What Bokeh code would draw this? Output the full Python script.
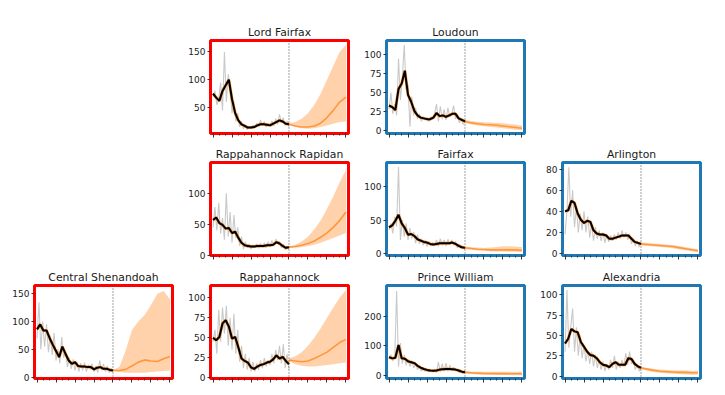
from bokeh.plotting import figure
from bokeh.layouts import column, row, Spacer
from bokeh.models import Range1d, FixedTicker, Span, CustomJSTickFormatter
from bokeh.embed import file_html
from bokeh.resources import INLINE

# ---------------- data ----------------
raw_days = list(range(0, 121, 3))      # daily raw counts (sampled)
hist_days = list(range(0, 121, 5))     # smoothed history
fc_days = list(range(120, 211, 10))    # forecast horizon
forecast_start = 120

x_major = [0, 30, 60, 90, 120, 150, 180, 210]
x_minor = list(range(0, 211, 10))

# Lord Fairfax
lf_raw = [70, 80, 55, 65, 95, 45, 150, 60, 110, 85, 40, 60, 25, 40, 15, 25, 12, 18, 10, 16, 12,
          18, 14, 22, 15, 28, 18, 25, 15, 22, 18, 26, 17, 30, 20, 38, 22, 32, 18, 26, 15]
lf_smooth = [75, 68, 62, 80, 90, 100, 65, 40, 27, 20, 17, 14, 14, 15, 18, 20, 20, 19, 18, 21,
             24, 27, 25, 21, 20]
lf_mid = [20, 17, 15, 15, 17, 22, 32, 45, 60, 69]
lf_lo = [19, 15, 13, 12, 13, 15, 18, 21, 24, 25]
lf_hi = [22, 24, 30, 40, 55, 75, 100, 125, 150, 163]

# Loudoun
ld_raw = [28, 50, 22, 35, 20, 95, 40, 70, 113, 55, 60, 5, 45, 20, 30, 15, 22, 12, 18, 14, 17,
          12, 18, 15, 22, 35, 12, 32, 15, 28, 14, 30, 18, 22, 33, 15, 22, 10, 15, 8, 12]
ld_smooth = [33, 31, 27, 55, 62, 79, 47, 38, 26, 20, 17, 16, 15, 15, 17, 23, 19, 20, 18, 20,
             22, 22, 16, 14, 12]
ld_mid = [12, 10, 9, 8, 7.5, 7, 6, 5, 4, 3]
ld_lo = [10, 8, 6.5, 5.5, 4.5, 4, 3, 2, 1, 0.5]
ld_hi = [14, 12.5, 11.5, 11, 10.5, 10, 9.5, 8.5, 7.5, 6.5]

# Rappahannock Rapidan
rr_raw = [45, 78, 40, 85, 35, 60, 25, 100, 30, 70, 20, 65, 28, 45, 15, 30, 10, 22, 12, 18, 10,
          17, 12, 18, 11, 19, 13, 20, 12, 22, 14, 24, 15, 26, 20, 22, 12, 18, 9, 14, 10]
rr_smooth = [57, 61, 52, 49, 43, 44, 36, 38, 28, 20, 16, 15, 14, 14, 15, 15, 15, 16, 16, 17,
             21, 19, 15, 12, 13]
rr_mid = [13, 14, 16, 19, 23, 29, 36, 45, 56, 70]
rr_lo = [12, 12, 13, 15, 17, 20, 24, 28, 32, 36]
rr_hi = [14, 17, 22, 30, 42, 56, 75, 95, 118, 138]

# Fairfax
fx_raw = [35, 45, 30, 55, 40, 130, 20, 50, 25, 45, 20, 38, 22, 32, 15, 28, 14, 22, 12, 20, 10,
          18, 11, 16, 12, 20, 10, 22, 12, 20, 11, 21, 13, 20, 12, 18, 8, 14, 7, 11, 6]
fx_smooth = [39, 42, 49, 58, 45, 38, 28, 29, 26, 21, 19, 17, 16, 14, 13, 14, 15, 15, 15, 15,
             16, 14, 11, 9, 8]
fx_mid = [8, 7, 6, 5.5, 5, 5, 5, 5, 5, 4.5]
fx_lo = [6, 5, 4, 3.5, 3, 2.5, 2.5, 2, 2, 1.5]
fx_hi = [10, 9, 8.5, 8, 8.5, 9.5, 10.5, 10.5, 10, 9.5]

# Arlington
ar_raw = [18, 40, 82, 35, 60, 25, 45, 20, 38, 22, 40, 20, 35, 15, 28, 12, 25, 14, 22, 12, 20,
          10, 18, 11, 17, 12, 18, 13, 20, 14, 22, 15, 20, 13, 18, 9, 14, 7, 12, 6, 10]
ar_smooth = [40, 41, 50, 48, 38, 32, 29, 31, 30, 22, 19, 18, 18, 17, 14, 14, 15, 16, 17, 17,
             17, 14, 11, 10, 9]
ar_mid = [9, 8.5, 8, 7.5, 7, 6.5, 5.5, 4.5, 3.5, 2.5]
ar_lo = [7.5, 7, 6.5, 6, 5.5, 5, 4, 3, 2, 1]
ar_hi = [10.5, 10, 9.5, 9, 8.5, 8, 7, 6, 5, 4]

# Central Shenandoah
cs_raw = [70, 135, 50, 100, 55, 95, 45, 75, 40, 80, 30, 50, 25, 72, 35, 45, 18, 35, 15, 32, 12,
          28, 10, 25, 12, 26, 10, 22, 14, 24, 10, 20, 8, 30, 12, 24, 10, 20, 8, 16, 10]
cs_smooth = [86, 95, 84, 84, 70, 58, 47, 36, 55, 42, 30, 24, 27, 20, 19, 19, 18, 18, 14, 17,
             18, 15, 15, 13, 12]
cs_mid = [12, 12, 14, 20, 27, 31, 29, 28, 33, 37]
cs_lo = [11, 9, 8, 8, 8, 8, 9, 10, 11, 12]
cs_hi = [13, 18, 48, 85, 100, 112, 130, 150, 155, 140]

# Rappahannock
ra_raw = [45, 60, 30, 85, 45, 88, 55, 90, 40, 75, 35, 80, 30, 60, 20, 40, 12, 30, 10, 25, 8,
          20, 8, 18, 10, 22, 12, 25, 14, 22, 16, 30, 18, 35, 22, 40, 18, 42, 12, 30, 10]
ra_smooth = [50, 47, 51, 68, 72, 64, 49, 51, 38, 24, 21, 19, 13, 11, 14, 16, 17, 19, 20, 23,
             28, 24, 26, 21, 17]
ra_mid = [22, 21, 20, 21, 24, 28, 32, 38, 44, 48]
ra_lo = [21, 17, 15, 14, 14, 15, 16, 17, 18, 19]
ra_hi = [24, 27, 32, 40, 50, 62, 75, 88, 100, 110]

# Prince William
pw_raw = [55, 70, 50, 60, 285, 30, 110, 40, 70, 35, 55, 30, 50, 25, 40, 20, 28, 15, 25, 14, 20,
          12, 18, 14, 22, 10, 45, 12, 40, 15, 42, 14, 35, 16, 28, 15, 22, 10, 15, 8, 12]
pw_smooth = [62, 58, 60, 103, 58, 57, 48, 45, 42, 33, 27, 22, 19, 17, 16, 17, 20, 21, 22, 22,
             21, 20, 17, 13, 11]
pw_mid = [11, 9, 8, 7, 7, 6.5, 6.5, 6, 6, 6]
pw_lo = [7, 5, 3.5, 2.5, 2, 2, 1.5, 1.5, 1, 1]
pw_hi = [15, 13, 12.5, 12.5, 12.5, 12.5, 12.5, 12.5, 12.5, 12.5]

# Alexandria
al_raw = [30, 106, 35, 60, 83, 30, 60, 25, 50, 22, 38, 18, 32, 15, 30, 12, 26, 10, 20, 8, 18,
          6, 15, 8, 20, 10, 25, 8, 18, 10, 20, 12, 28, 14, 30, 15, 20, 8, 14, 6, 10]
al_smooth = [40, 46, 58, 55, 54, 42, 36, 30, 26, 25, 22, 17, 14, 13, 11, 15, 17, 14, 14, 14,
             22, 21, 15, 12, 10]
al_mid = [10, 8.5, 7, 6, 5.5, 5, 4.5, 4.5, 4, 4]
al_lo = [8.5, 6.5, 5, 4, 3.5, 3, 2.5, 2, 1.5, 1.5]
al_hi = [11.5, 10, 9, 8, 7.5, 7, 7, 7, 6.5, 6.5]

RED = "#ff0000"
BLUE = "#1f77b4"
ORANGE = "#ff7f0e"
FONT = "DejaVu Sans"

COL_W = 176
FRAME_W = 138
FRAME_H = 93


def panel(title, raw, smooth, mid, lo, hi, yr, yticks, edge, top):
    p = figure(frame_width=FRAME_W, frame_height=FRAME_H,
               x_range=Range1d(-4, 214), y_range=Range1d(*yr),
               output_backend="svg", toolbar_location=None,
               min_border_left=26, min_border_right=COL_W - FRAME_W - 26,
               min_border_top=top, min_border_bottom=8,
               title=title)
    p.title.align = "center"
    p.title.text_font = FONT
    p.title.text_font_size = "10.8px"
    p.title.text_font_style = "normal"
    p.title.text_color = "#1a1a1a"
    p.title.standoff = 3
    p.xgrid.visible = False
    p.ygrid.visible = False
    p.outline_line_color = edge
    p.outline_line_width = 3
    p.outline_line_alpha = 1.0
    p.background_fill_color = "white"
    p.border_fill_color = "white"

    # data
    p.varea(x=fc_days, y1=lo, y2=hi, fill_color=ORANGE, fill_alpha=0.35)
    p.line(raw_days, raw, line_color="#888888", line_alpha=0.45, line_width=1.1)
    p.line(hist_days, smooth, line_color=ORANGE, line_alpha=0.75, line_width=3)
    p.line(fc_days, mid, line_color=ORANGE, line_alpha=0.7, line_width=1.6)
    p.line(hist_days, smooth, line_color="black", line_width=2)
    p.add_layout(Span(location=forecast_start, dimension="height",
                      line_color="#444444", line_dash="1 2", line_width=1))

    # axes
    p.yaxis.ticker = FixedTicker(ticks=yticks)
    p.yaxis.axis_line_color = None
    p.yaxis.major_tick_in = 0
    p.yaxis.major_tick_out = 3
    p.yaxis.minor_tick_out = 0
    p.yaxis.minor_tick_in = 0
    p.yaxis.major_tick_line_color = "#333333"
    p.yaxis.major_label_text_font = FONT
    p.yaxis.major_label_text_font_size = "9px"
    p.yaxis.major_label_text_color = "#222222"
    p.yaxis.major_label_standoff = 2

    p.xaxis.ticker = FixedTicker(ticks=x_major, minor_ticks=x_minor)
    p.xaxis.formatter = CustomJSTickFormatter(code="return ''")
    p.xaxis.axis_line_color = None
    p.xaxis.major_tick_in = 0
    p.xaxis.major_tick_out = 4
    p.xaxis.minor_tick_in = 0
    p.xaxis.minor_tick_out = 2
    p.xaxis.major_tick_line_color = "#333333"
    p.xaxis.minor_tick_line_color = "#333333"
    p.xaxis.major_label_standoff = 0
    return p


lf = panel("Lord Fairfax", lf_raw, lf_smooth, lf_mid, lf_lo, lf_hi, (3.4, 170.6), [50, 100, 150], RED, 32)
ld = panel("Loudoun", ld_raw, ld_smooth, ld_mid, ld_lo, ld_hi, (-4, 119), [0, 25, 50, 75, 100], BLUE, 32)

rr = panel("Rappahannock Rapidan", rr_raw, rr_smooth, rr_mid, rr_lo, rr_hi, (-0.5, 150), [0, 50, 100], RED, 21)
fx = panel("Fairfax", fx_raw, fx_smooth, fx_mid, fx_lo, fx_hi, (-3.5, 137), [0, 50, 100], BLUE, 21)
ar = panel("Arlington", ar_raw, ar_smooth, ar_mid, ar_lo, ar_hi, (-2, 86.5), [0, 20, 40, 60, 80], BLUE, 21)

cs = panel("Central Shenandoah", cs_raw, cs_smooth, cs_mid, cs_lo, cs_hi, (-2.5, 165), [0, 50, 100, 150], RED, 22)
ra = panel("Rappahannock", ra_raw, ra_smooth, ra_mid, ra_lo, ra_hi, (-1, 115.5), [0, 25, 50, 75, 100], RED, 22)
pw = panel("Prince William", pw_raw, pw_smooth, pw_mid, pw_lo, pw_hi, (-10, 304), [0, 100, 200], BLUE, 22)
al = panel("Alexandria", al_raw, al_smooth, al_mid, al_lo, al_hi, (-3, 111.5), [0, 25, 50, 75, 100], BLUE, 22)

r1 = row(Spacer(width=COL_W, height=32 + FRAME_H + 8), lf, ld, Spacer(width=COL_W, height=32 + FRAME_H + 8))
r2 = row(Spacer(width=COL_W, height=21 + FRAME_H + 8), rr, fx, ar)
r3 = row(cs, ra, pw, al)
grid = column(r1, r2, r3)
layout = column(Spacer(width=8, height=8), row(Spacer(width=8, height=8), grid))

open("out.html", "w").write(file_html(layout, INLINE))
